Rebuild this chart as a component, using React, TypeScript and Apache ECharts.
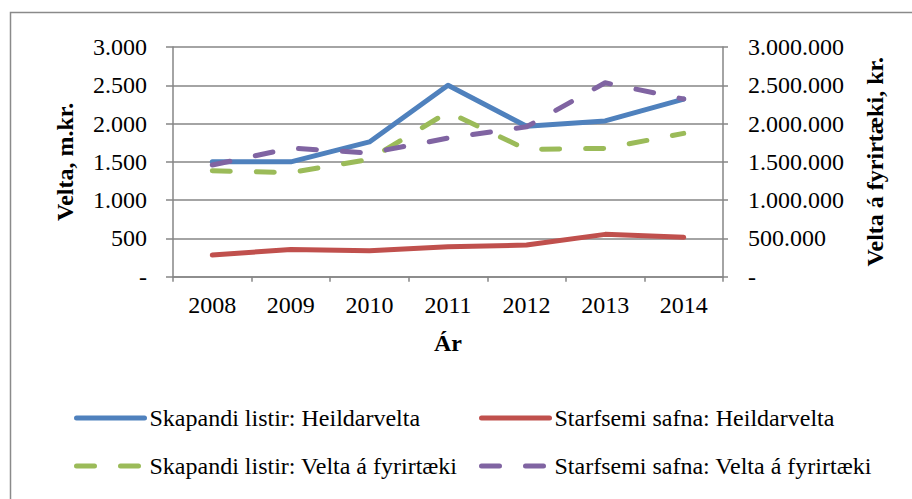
import React, { useEffect, useRef } from "react";
import * as echarts from "echarts";

const years = ["2008", "2009", "2010", "2011", "2012", "2013", "2014"];
const skapandiHeild = [1500, 1500, 1760, 2500, 1965, 2035, 2320];
const safnaHeild = [283, 355, 340, 390, 414, 553, 514];
const skapandiFyrirt = [1383000, 1360000, 1532000, 2150000, 1663000, 1676000, 1872000];
const safnaFyrirt = [1458000, 1680000, 1615000, 1810000, 1958000, 2533000, 2320000];

const names = [
  "Skapandi listir: Heildarvelta",
  "Starfsemi safna: Heildarvelta",
  "Skapandi listir: Velta á fyrirtæki",
  "Starfsemi safna: Velta á fyrirtæki",
];
const colors = ["#4F81BD", "#C0504D", "#9BBB59", "#8064A2"];

const FONT = "'Liberation Serif', 'Times New Roman', serif";
const GRAY = "#868686";

const fmt = (v: number) =>
  v === 0 ? "-" : String(Math.round(v)).replace(/\B(?=(\d{3})+(?!\d))/g, ".");

export default function App() {
  const ref = useRef<HTMLDivElement>(null);
  useEffect(() => {
    if (!ref.current) return;
    const chart = echarts.init(ref.current, null, { renderer: "svg" });
    const dash = [18, 26];
    const mkLegend = (i: number, left: number, top: number, dashed: boolean) => ({
      data: [names[i]],
      left,
      top,
      padding: 0,
      itemWidth: 68,
      itemHeight: 14,
      itemGap: 0,
      textStyle: { fontFamily: FONT, fontSize: 24, color: "#000" },
      itemStyle: { color: "rgba(0,0,0,0)", borderColor: "rgba(0,0,0,0)", borderWidth: 0 },
      lineStyle: { width: 5, color: colors[i], type: dashed ? dash : "solid", cap: "round" },
    });
    const mkSeries = (i: number, data: number[], yAxisIndex: number, dashed: boolean) => ({
      name: names[i],
      type: "line",
      data,
      yAxisIndex,
      symbol: "none",
      showSymbol: false,
      color: colors[i],
      lineStyle: {
        width: 5,
        color: colors[i],
        type: dashed ? dash : "solid",
        cap: "round",
        join: "round",
      },
    });
    chart.setOption({
      animation: false,
      backgroundColor: "#fff",
      graphic: [
        {
          type: "rect",
          shape: { x: 10.5, y: 12.5, width: 1000, height: 1000 },
          style: { fill: "none", stroke: "#8a8a8a", lineWidth: 1.5 },
          silent: true,
        },
      ],
      grid: { left: 173, right: 189, top: 47, bottom: 222.3, containLabel: false },
      legend: [
        mkLegend(0, 74, 406, false),
        mkLegend(1, 479, 406, false),
        mkLegend(2, 74, 454, true),
        mkLegend(3, 479, 454, true),
      ],
      xAxis: {
        type: "category",
        data: years,
        boundaryGap: true,
        name: "Ár",
        nameLocation: "middle",
        nameGap: 54,
        nameTextStyle: { fontFamily: FONT, fontSize: 24, fontWeight: "bold", color: "#000" },
        axisLine: { show: true, lineStyle: { color: GRAY, width: 1.5 } },
        axisTick: { show: true, length: 5, lineStyle: { color: GRAY, width: 1.5 } },
        axisLabel: { fontFamily: FONT, fontSize: 24, color: "#000", margin: 16 },
        splitLine: { show: false },
      },
      yAxis: [
        {
          type: "value",
          min: 0,
          max: 3000,
          interval: 500,
          position: "left",
          name: "Velta, m.kr.",
          nameLocation: "middle",
          nameRotate: 90,
          nameGap: 96,
          nameTextStyle: { fontFamily: FONT, fontSize: 24, fontWeight: "bold", color: "#000" },
          axisLine: { show: true, lineStyle: { color: GRAY, width: 1.5 } },
          axisTick: { show: true, length: 7, lineStyle: { color: GRAY, width: 1.5 } },
          axisLabel: { fontFamily: FONT, fontSize: 24, color: "#000", margin: 26, formatter: fmt },
          splitLine: { show: true, lineStyle: { color: GRAY, width: 1.5 } },
        },
        {
          type: "value",
          min: 0,
          max: 3000000,
          interval: 500000,
          position: "right",
          name: "Velta á fyrirtæki, kr.",
          nameLocation: "middle",
          nameRotate: 90,
          nameGap: 140,
          nameTextStyle: { fontFamily: FONT, fontSize: 24, fontWeight: "bold", color: "#000" },
          axisLine: { show: true, lineStyle: { color: GRAY, width: 1.5 } },
          axisTick: { show: true, length: 5, lineStyle: { color: GRAY, width: 1.5 } },
          axisLabel: { fontFamily: FONT, fontSize: 24, color: "#000", margin: 25, formatter: fmt },
          splitLine: { show: false },
        },
      ],
      series: [
        mkSeries(0, skapandiHeild, 0, false),
        mkSeries(1, safnaHeild, 0, false),
        mkSeries(2, skapandiFyrirt, 1, true),
        mkSeries(3, safnaFyrirt, 1, true),
      ],
    });
    return () => chart.dispose();
  }, []);
  return (
    <div
      ref={ref}
      style={{ position: "absolute", left: 0, top: 0, width: 912, height: 499 }}
    />
  );
}
